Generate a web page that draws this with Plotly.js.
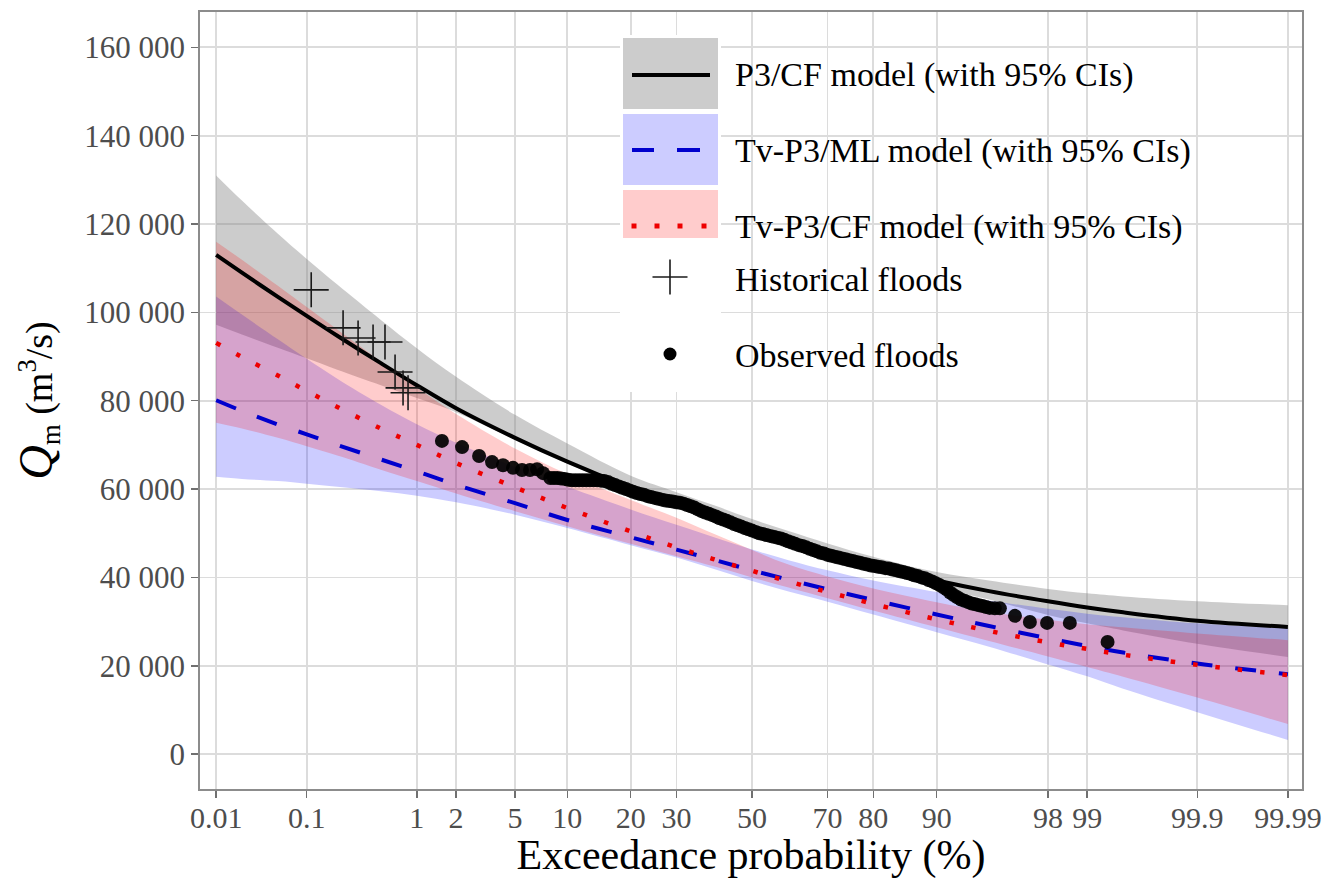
<!DOCTYPE html>
<html>
<head>
<meta charset="utf-8">
<script src="https://cdn.plot.ly/plotly-3.0.1.min.js"></script>
<style>html,body{margin:0;padding:0;background:#fff;}#chart{width:1341px;height:879px;}</style>
</head>
<body>
<div id="chart"></div>
<script>
// ---------------- data (exceedance probability in %) ----------------
const PROB = [0.01,0.02,0.05,0.1,0.2,0.5,1,2,5,10,20,30,40,50,60,70,80,90,95,98,99,99.5,99.9,99.99];

const P3CF_MID = [113000,109000,103500,99200,94700,88500,83500,78300,71600,66200,60300,56500,53400,50700,48100,45500,42700,39300,36900,34600,33200,32100,30200,28800];
const P3CF_UP  = [131000,125300,117800,112100,106300,98300,91900,85400,76800,70300,63000,59300,56200,53200,50500,47700,44700,41200,39300,37400,36400,35700,34600,33700];
const P3CF_LO  = [97200,95000,92000,89600,87000,83500,80600,77400,71200,65800,59900,56100,53000,50200,47400,44600,41600,37800,35000,31500,29600,28000,25000,22000];

const TVML_MID = [80100,77700,74600,72400,70000,66700,64000,61000,56800,53000,49100,46300,43900,41600,39500,37300,34900,31600,29000,26200,24500,23000,20500,18100];
const TVML_UP  = [103600,99500,93900,89500,85000,79100,74700,70500,65000,60500,55400,51900,49000,46300,43900,41600,39300,36700,34800,32900,31800,31000,29600,28500];
const TVML_LO  = [62800,62300,61800,61200,60500,59500,58500,57000,54200,51200,47300,44500,41800,39200,36800,34500,31600,27600,24300,20300,17600,14800,9500,3200];

const TVCF_MID = [93100,89900,85700,82200,78600,73700,70000,65900,60400,55700,50400,46800,44000,41500,39100,36700,34000,30500,27900,25300,23800,22500,20200,17900];
const TVCF_UP  = [116000,111900,106000,101200,96100,88900,83000,77000,69200,63400,57500,53500,49700,46200,42900,40200,37500,34400,32200,30400,29400,28700,27300,25800];
const TVCF_LO  = [75000,73700,71600,69700,67600,64400,61800,59000,55000,51600,47600,44800,42400,40000,37700,35300,32500,28700,25600,22100,19700,17500,12800,6800];

const HIST_P = [0.111,0.227,0.313,0.427,0.543,0.662,0.772,0.849];
const HIST_Q = [105100,96500,94200,93300,93300,86500,82900,81800];

const OBS_P = [1.57,2.21,2.91,3.56,4.20,4.86,5.52,6.17,6.79,7.35,
  8.08,8.46,8.85,9.26,9.68,10.11,10.56,11.03,11.51,12.00,12.51,13.03,13.57,14.12,14.69,15.27,15.87,16.48,17.11,17.75,
  18.41,19.08,19.77,20.47,21.19,21.92,22.66,23.42,24.20,24.98,25.78,26.60,27.43,28.27,29.12,29.98,30.85,31.74,32.64,33.54,
  34.46,35.38,36.32,37.26,38.21,39.17,40.13,41.10,42.07,43.05,44.04,45.03,46.02,47.01,48.01,49.00,50.00,51.00,51.99,52.99,
  53.98,54.97,55.96,56.95,57.93,58.90,59.87,60.83,61.79,62.74,63.68,64.62,65.54,66.46,67.36,68.26,69.15,70.02,70.88,71.73,
  72.57,73.40,74.22,75.02,75.80,76.58,77.34,78.08,78.81,79.53,80.23,80.92,81.59,82.25,82.89,83.52,84.13,84.73,85.31,85.88,
  86.43,86.97,87.49,88.00,88.49,88.97,89.44,89.89,90.32,90.74,91.15,91.54,91.92,92.29,92.65,92.99,93.32,93.64,93.94,94.24,
  94.52,94.79,95.05,95.40,95.73,96.60,97.31,97.97,98.63,99.32];
const OBS_Q = [70900,69500,67500,66100,65400,64800,64300,64300,64500,63600,
  62500,62500,62500,62400,62300,62100,62000,62000,62000,62000,62000,62000,62000,62000,61900,61800,61600,61200,60900,60600,
  60300,60000,59700,59400,59100,58900,58700,58400,58200,58000,57800,57600,57400,57300,57200,57000,56900,56700,56400,56100,
  55800,55400,55000,54700,54400,54100,53800,53400,53100,52800,52500,52100,51800,51500,51200,50900,50600,50300,50000,49800,
  49600,49400,49200,49000,48800,48500,48200,47900,47600,47300,47100,46800,46500,46200,45900,45600,45400,45100,44900,44700,
  44500,44300,44100,43900,43700,43500,43300,43100,42900,42700,42600,42400,42300,42100,42000,41800,41600,41400,41200,41000,
  40800,40500,40300,40000,39800,39400,39100,38700,38300,37800,37300,36600,36000,35500,35000,34700,34400,34100,33900,33700,
  33500,33300,33100,33000,33000,31300,29900,29700,29700,25400];

const X_TICKS = [0.01,0.1,1,2,5,10,20,30,50,70,80,90,98,99,99.9,99.99];
const X_LABELS = ['0.01','0.1','1','2','5','10','20','30','50','70','80','90','98','99','99.9','99.99'];
const Y_TICKS = [0,20000,40000,60000,80000,100000,120000,140000,160000];
const Y_LABELS = ['0','20 000','40 000','60 000','80 000','100 000','120 000','140 000','160 000'];

const LEGEND_LABELS = ['P3/CF model (with 95% CIs)','Tv-P3/ML model (with 95% CIs)','Tv-P3/CF model (with 95% CIs)','Historical floods','Observed floods'];

// ---------------- normal probability scale ----------------
function qnorm(p){
  const a=[-3.969683028665376e+01,2.209460984245205e+02,-2.759285104469687e+02,1.383577518672690e+02,-3.066479806614716e+01,2.506628277459239e+00];
  const b=[-5.447609879822406e+01,1.615858368580409e+02,-1.556989798598866e+02,6.680131188771972e+01,-1.328068155288572e+01];
  const c=[-7.784894002430293e-03,-3.223964580411365e-01,-2.400758277161838e+00,-2.549732539343734e+00,4.374664141464968e+00,2.938163982698783e+00];
  const d=[7.784695709041462e-03,3.224671290700398e-01,2.445134137142996e+00,3.754408661907416e+00];
  const pl=0.02425, ph=1-pl; let q,r;
  if(p<pl){q=Math.sqrt(-2*Math.log(p));return (((((c[0]*q+c[1])*q+c[2])*q+c[3])*q+c[4])*q+c[5])/((((d[0]*q+d[1])*q+d[2])*q+d[3])*q+1);}
  if(p<=ph){q=p-0.5;r=q*q;return (((((a[0]*r+a[1])*r+a[2])*r+a[3])*r+a[4])*r+a[5])*q/(((((b[0]*r+b[1])*r+b[2])*r+b[3])*r+b[4])*r+1);}
  q=Math.sqrt(-2*Math.log(1-p));
  return -(((((c[0]*q+c[1])*q+c[2])*q+c[3])*q+c[4])*q+c[5])/((((d[0]*q+d[1])*q+d[2])*q+d[3])*q+1);
}
const Z = arr => arr.map(p => qnorm(p/100));

const zP = Z(PROB);
const FONT = 'Liberation Serif, Times New Roman, serif';
const GREY_FILL = 'rgba(127,127,127,0.4)';
const BLUE_FILL = 'rgba(0,0,255,0.2)';
const RED_FILL = 'rgba(255,0,0,0.2)';
const BLUE_LINE = 'rgb(0,0,205)';
const RED_LINE = '#ee0000';
const SM = {shape:'spline', smoothing:1};

function band(lo, up, fill){
  return [
    {x: zP, y: lo, mode:'lines', line:Object.assign({width:0}, SM), hoverinfo:'skip', showlegend:false},
    {x: zP, y: up, mode:'lines', line:Object.assign({width:0}, SM), fill:'tonexty', fillcolor:fill, hoverinfo:'skip', showlegend:false}
  ];
}

const traces = [
  ...band(P3CF_LO, P3CF_UP, GREY_FILL),
  ...band(TVML_LO, TVML_UP, BLUE_FILL),
  ...band(TVCF_LO, TVCF_UP, RED_FILL),
  {x: zP, y: P3CF_MID, mode:'lines', line:Object.assign({color:'#000', width:4}, SM), name: LEGEND_LABELS[0], showlegend:false},
  {x: zP, y: TVML_MID, mode:'lines', line:Object.assign({color:BLUE_LINE, width:4, dash:'21px,23px'}, SM), name: LEGEND_LABELS[1], showlegend:false},
  {x: zP, y: TVCF_MID, mode:'lines', line:Object.assign({color:RED_LINE, width:4.5, dash:'4.5px,18px'}, SM), name: LEGEND_LABELS[2], showlegend:false},
  {x: Z(HIST_P), y: HIST_Q, mode:'markers', marker:{symbol:'cross-thin', size:25, line:{width:1.6, color:'#1a1a1a'}}, name: LEGEND_LABELS[3], showlegend:false},
  {x: Z(OBS_P), y: OBS_Q, mode:'markers', marker:{symbol:'circle', size:14, color:'rgba(0,0,0,0.92)', line:{width:0}}, name: LEGEND_LABELS[4], showlegend:false}
];

// ---------------- layout ----------------
const L = 200, R = 1302, T = 12, B = 789;
const px = v => (v - L) / (R - L);
const py = v => (B - v) / (B - T);

const shapes = [
  {type:'rect', xref:'paper', yref:'paper', x0:px(620), x1:px(721), y0:py(392), y1:py(35), fillcolor:'#fff', line:{width:0}, layer:'above'},
  {type:'rect', xref:'paper', yref:'paper', x0:px(623), x1:px(718), y0:py(109), y1:py(38), fillcolor:'rgb(204,204,204)', line:{width:0}, layer:'above'},
  {type:'line', xref:'paper', yref:'paper', x0:px(632), x1:px(710), y0:py(75), y1:py(75), line:{color:'#000', width:4}, layer:'above'},
  {type:'rect', xref:'paper', yref:'paper', x0:px(623), x1:px(718), y0:py(185), y1:py(114), fillcolor:'rgb(204,204,255)', line:{width:0}, layer:'above'},
  {type:'line', xref:'paper', yref:'paper', x0:px(632), x1:px(654), y0:py(150), y1:py(150), line:{color:BLUE_LINE, width:4}, layer:'above'},
  {type:'line', xref:'paper', yref:'paper', x0:px(677), x1:px(700), y0:py(150), y1:py(150), line:{color:BLUE_LINE, width:4}, layer:'above'},
  {type:'rect', xref:'paper', yref:'paper', x0:px(623), x1:px(718), y0:py(238), y1:py(190), fillcolor:'rgb(255,204,204)', line:{width:0}, layer:'above'},
  ...[634,657,680,704].map(c => ({type:'rect', xref:'paper', yref:'paper', x0:px(c-2.5), x1:px(c+2.5), y0:py(228.5), y1:py(223.5), fillcolor:RED_LINE, line:{width:0}, layer:'above'})),
  {type:'line', xref:'paper', yref:'paper', x0:px(652.5), x1:px(687.5), y0:py(277), y1:py(277), line:{color:'#1a1a1a', width:1.6}, layer:'above'},
  {type:'line', xref:'paper', yref:'paper', x0:px(670), x1:px(670), y0:py(294.5), y1:py(259.5), line:{color:'#1a1a1a', width:1.6}, layer:'above'},
  {type:'circle', xref:'paper', yref:'paper', x0:px(663.5), x1:px(676.5), y0:py(360.5), y1:py(347.5), fillcolor:'#000', line:{width:0}, layer:'above'}
];

const legendY = [75, 151, 227, 279, 355];
const annotations = LEGEND_LABELS.map((t, i) => ({
  text: t, xref:'paper', yref:'paper', x: px(733), y: py(legendY[i]), xanchor:'left', yanchor:'middle',
  showarrow:false, font:{family:FONT, size:34, color:'#000'}
}));

const layout = {
  width:1341, height:879,
  margin:{l:L, r:1341-R, t:T, b:879-B, pad:0},
  paper_bgcolor:'#fff', plot_bgcolor:'#fff',
  font:{family:FONT, color:'#000'},
  showlegend:false,
  xaxis:{
    range:[-3.831, 3.817], tickvals: Z(X_TICKS), ticktext: X_LABELS,
    showgrid:true, gridcolor:'#dcdcdc', gridwidth:1.7, zeroline:false,
    showline:true, mirror:true, linecolor:'#8c8c8c', linewidth:1.7,
    ticks:'outside', ticklen:7, tickwidth:1.5, tickcolor:'#707070',
    ticklabelstandoff:-6,
    tickfont:{family:FONT, size:30, color:'#4d4d4d'},
    title:{text:'Exceedance probability (%)', font:{family:FONT, size:42, color:'#000'}, standoff:8}
  },
  yaxis:{
    range:[-7900, 168000], tickvals: Y_TICKS, ticktext: Y_LABELS,
    showgrid:true, gridcolor:'#dcdcdc', gridwidth:1.7, zeroline:false,
    showline:true, mirror:true, linecolor:'#8c8c8c', linewidth:1.7,
    ticks:'outside', ticklen:7, tickwidth:1.5, tickcolor:'#707070',
    tickfont:{family:FONT, size:31, color:'#4d4d4d'},
    title:{text:'<span style="font-size:48px"><i>Q</i></span><sub>m</sub> (m<sup>3</sup>/s)', font:{family:FONT, size:38, color:'#000'}, standoff:20}
  },
  shapes: shapes,
  annotations: annotations
};

Plotly.newPlot('chart', traces, layout, {displayModeBar:false, staticPlot:true});
</script>
</body>
</html>
